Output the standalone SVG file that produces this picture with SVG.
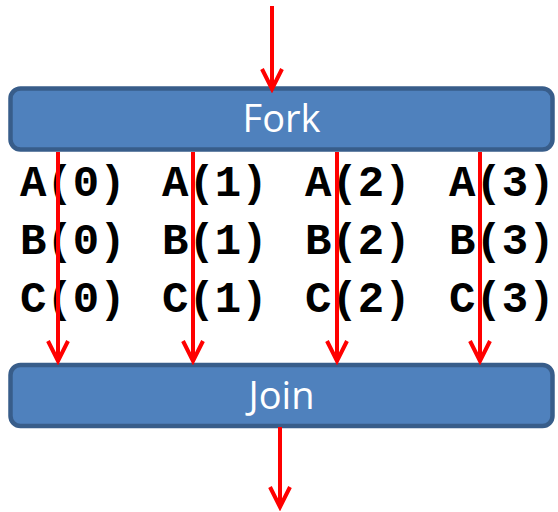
<svg xmlns="http://www.w3.org/2000/svg" width="558" height="512" viewBox="0 0 558 512">
<style>
.box{fill:#4f81bd;stroke:#385d8a;stroke-width:4.5}
.lbl{font-family:"Open Sans","Noto Sans",sans-serif;font-size:38px;fill:#ffffff;text-anchor:middle}
.code{font-family:"Liberation Mono","Courier New",monospace;font-weight:bold;font-size:44px;fill:#000000}
.arr{stroke:#ff0000;stroke-width:4;fill:none}
</style>
<defs>
<marker id="ah" markerUnits="userSpaceOnUse" viewBox="-24 -14 28 28" refX="0" refY="0" markerWidth="28" markerHeight="28" orient="auto">
<path d="M-20,-10 L0,0 L-20,10" fill="none" stroke="#ff0000" stroke-width="4"/>
</marker>
</defs>
<rect width="558" height="512" fill="#ffffff"/>
<g id="codes">
<text class="code" x="20" y="196">A(0)</text>
<text class="code" x="162" y="196">A(1)</text>
<text class="code" x="305" y="196">A(2)</text>
<text class="code" x="449" y="196">A(3)</text>
<text class="code" x="20" y="254">B(0)</text>
<text class="code" x="162" y="254">B(1)</text>
<text class="code" x="305" y="254">B(2)</text>
<text class="code" x="449" y="254">B(3)</text>
<text class="code" x="20" y="312">C(0)</text>
<text class="code" x="162" y="312">C(1)</text>
<text class="code" x="305" y="312">C(2)</text>
<text class="code" x="449" y="312">C(3)</text>
</g>
<g id="fork">
<rect class="box" x="10.5" y="88.5" width="542" height="61" rx="10"/>
<text class="lbl" x="281.5" y="132">Fork</text>
</g>
<g id="join">
<rect class="box" x="10.5" y="365" width="542" height="61" rx="10"/>
<text class="lbl" x="281.5" y="409">Join</text>
</g>
<g id="connectors">
<line class="arr" x1="272" y1="6" x2="272" y2="89" marker-end="url(#ah)"/>
<line class="arr" x1="58" y1="152" x2="58" y2="361" marker-end="url(#ah)"/>
<line class="arr" x1="193" y1="152" x2="193" y2="361" marker-end="url(#ah)"/>
<line class="arr" x1="337" y1="152" x2="337" y2="361" marker-end="url(#ah)"/>
<line class="arr" x1="480" y1="152" x2="480" y2="361" marker-end="url(#ah)"/>
<line class="arr" x1="280" y1="427" x2="280" y2="507" marker-end="url(#ah)"/>
</g>
</svg>
